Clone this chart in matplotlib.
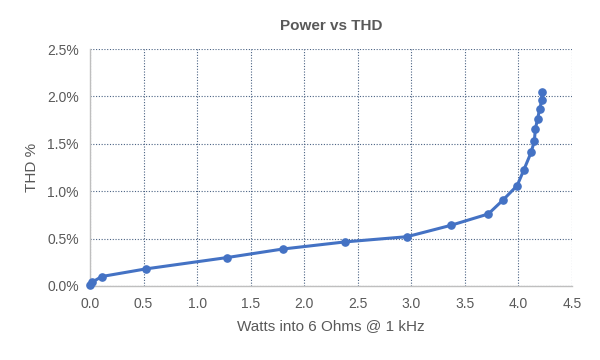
import matplotlib
matplotlib.use('Agg')
import matplotlib.pyplot as plt
from matplotlib.ticker import FuncFormatter, MultipleLocator

# values
watts = [0.0, 0.02, 0.11, 0.52, 1.28, 1.80, 2.38, 2.96, 3.37, 3.72, 3.86,
         3.99, 4.05, 4.12, 4.15, 4.16, 4.18, 4.20, 4.22, 4.22]
thd = [0.01, 0.04, 0.10, 0.18, 0.30, 0.39, 0.465, 0.52, 0.64, 0.76, 0.91,
       1.06, 1.22, 1.41, 1.53, 1.66, 1.76, 1.87, 1.96, 2.05]

grey = '#595959'
blue = '#4472C4'
plt.rcParams['font.family'] = ['Liberation Sans', 'DejaVu Sans']

fig = plt.figure(figsize=(6, 3.6), dpi=100)
ax = fig.add_axes([0.15, 0.2056, 0.803, 0.658])

ax.plot(watts, thd, color=blue, lw=2.2, marker='o', ms=5.2,
        solid_capstyle='round', solid_joinstyle='round', zorder=3, clip_on=False)

ax.set_xlim(0, 4.5)
ax.set_ylim(0, 2.5)
ax.xaxis.set_major_locator(MultipleLocator(0.5))
ax.yaxis.set_major_locator(MultipleLocator(0.5))
ax.xaxis.set_major_formatter(FuncFormatter(lambda v, p: f'{v:.1f}'))
ax.yaxis.set_major_formatter(FuncFormatter(lambda v, p: f'{v:.1f}%'))

ax.grid(True, color='#4a6283', linestyle=(0, (1, 1.5)), linewidth=0.8)
ax.set_axisbelow(True)
for s in ['top', 'right']:
    ax.spines[s].set_visible(False)
for s in ['left', 'bottom']:
    ax.spines[s].set_color('#bfbfbf')
    ax.spines[s].set_linewidth(1)
ax.tick_params(length=0, labelsize=10, colors=grey, pad=8)

ax.set_title('Power vs THD', fontsize=11, fontweight='bold', color=grey, pad=14)
ax.set_xlabel('Watts into 6 Ohms @ 1 kHz', fontsize=11, color=grey, labelpad=6)
ax.set_ylabel('THD %', fontsize=11, color=grey, labelpad=6)

fig.savefig('out.png', dpi=100)
